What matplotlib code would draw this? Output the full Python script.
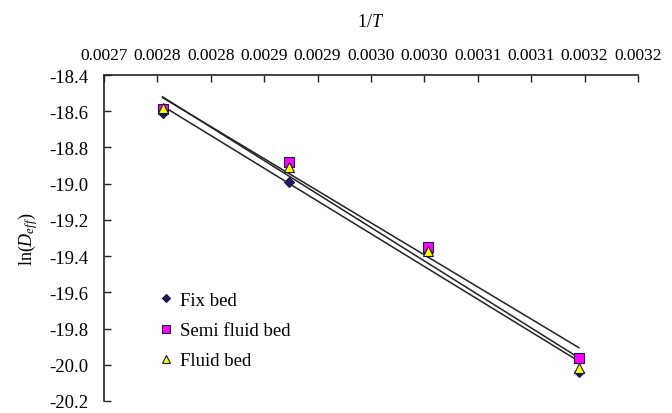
import numpy as np
import matplotlib
matplotlib.use('Agg')
import matplotlib.pyplot as plt

plt.rcParams['font.family'] = ['Liberation Serif', 'DejaVu Serif']
plt.rcParams['axes.unicode_minus'] = False
plt.rcParams['mathtext.fontset'] = 'custom'
plt.rcParams['mathtext.rm'] = 'Liberation Serif'
plt.rcParams['mathtext.it'] = 'Liberation Serif:italic'

# data
invT = [1/363., 1/348., 1/333., 1/318.]
fix_bed = [-18.61, -18.99, -19.38, -20.04]
semi_fluid = [-18.59, -18.88, -19.35, -19.96]
fluid_bed = [-18.58, -18.91, -19.37, -20.02]

xticks = [0.0027, 0.00275, 0.0028, 0.00285, 0.0029, 0.00295,
          0.0030, 0.00305, 0.0031, 0.00315, 0.0032]
xticklabels = ['0.0027', '0.0028', '0.0028', '0.0029', '0.0029', '0.0030',
               '0.0030', '0.0031', '0.0031', '0.0032', '0.0032']
yticks = [-20.2, -20.0, -19.8, -19.6, -19.4, -19.2, -19.0, -18.8, -18.6, -18.4]

series = [
  ('Fix bed', fix_bed, 'D', '#1a1a66', 5.5),
  ('Semi fluid bed', semi_fluid, 's', '#ff00ff', 6.5),
  ('Fluid bed', fluid_bed, '^', '#ffff00', 6.5),
]

fig = plt.figure(figsize=(6.72, 4.14), dpi=100)
ax = fig.add_axes([0.1548, 0.029, 0.7946, 0.7874])

x = np.array(invT)
# trend lines first (behind markers)
for name, y, m, c, s in series:
  k, b = np.polyfit(x, y, 1)
  ax.plot([x[0], x[-1]], [k*x[0]+b, k*x[-1]+b], color='#222222', lw=1.1, zorder=2)

for name, y, m, c, s in series:
  ax.plot(x, y, linestyle='none', marker=m, markersize=s, markerfacecolor=c,
          markeredgecolor='#1a1a40', markeredgewidth=0.8, label=name, zorder=3)

ax.set_xlim(0.0027, 0.0032)
ax.set_ylim(-20.2, -18.4)
ax.xaxis.tick_top()
ax.xaxis.set_label_position('top')
ax.set_xticks(xticks)
ax.set_xticklabels(xticklabels)
ax.set_yticks(yticks)
ax.set_yticklabels(['%.1f' % v for v in yticks])
ax.tick_params(axis='both', direction='in', length=5, width=1, color='#222222')
ax.tick_params(axis='x', pad=9, labelsize=12.5)
ax.tick_params(axis='y', pad=11, labelsize=13.5)

for side in ['bottom', 'right']:
  ax.spines[side].set_visible(False)
for side in ['top', 'left']:
  ax.spines[side].set_linewidth(1.2)
  ax.spines[side].set_color('#222222')

ax.set_xlabel('1/$T$', fontsize=13, labelpad=15)
ax.set_ylabel('ln($D_{eff}$)', fontsize=13, labelpad=7)

leg = ax.legend(loc='lower left', bbox_to_anchor=(0.065, 0.045), frameon=False,
                fontsize=13.5, handletextpad=0.2, labelspacing=0.7, handlelength=1.1,
                markerscale=0.8)

fig.savefig('out.png', dpi=100)
